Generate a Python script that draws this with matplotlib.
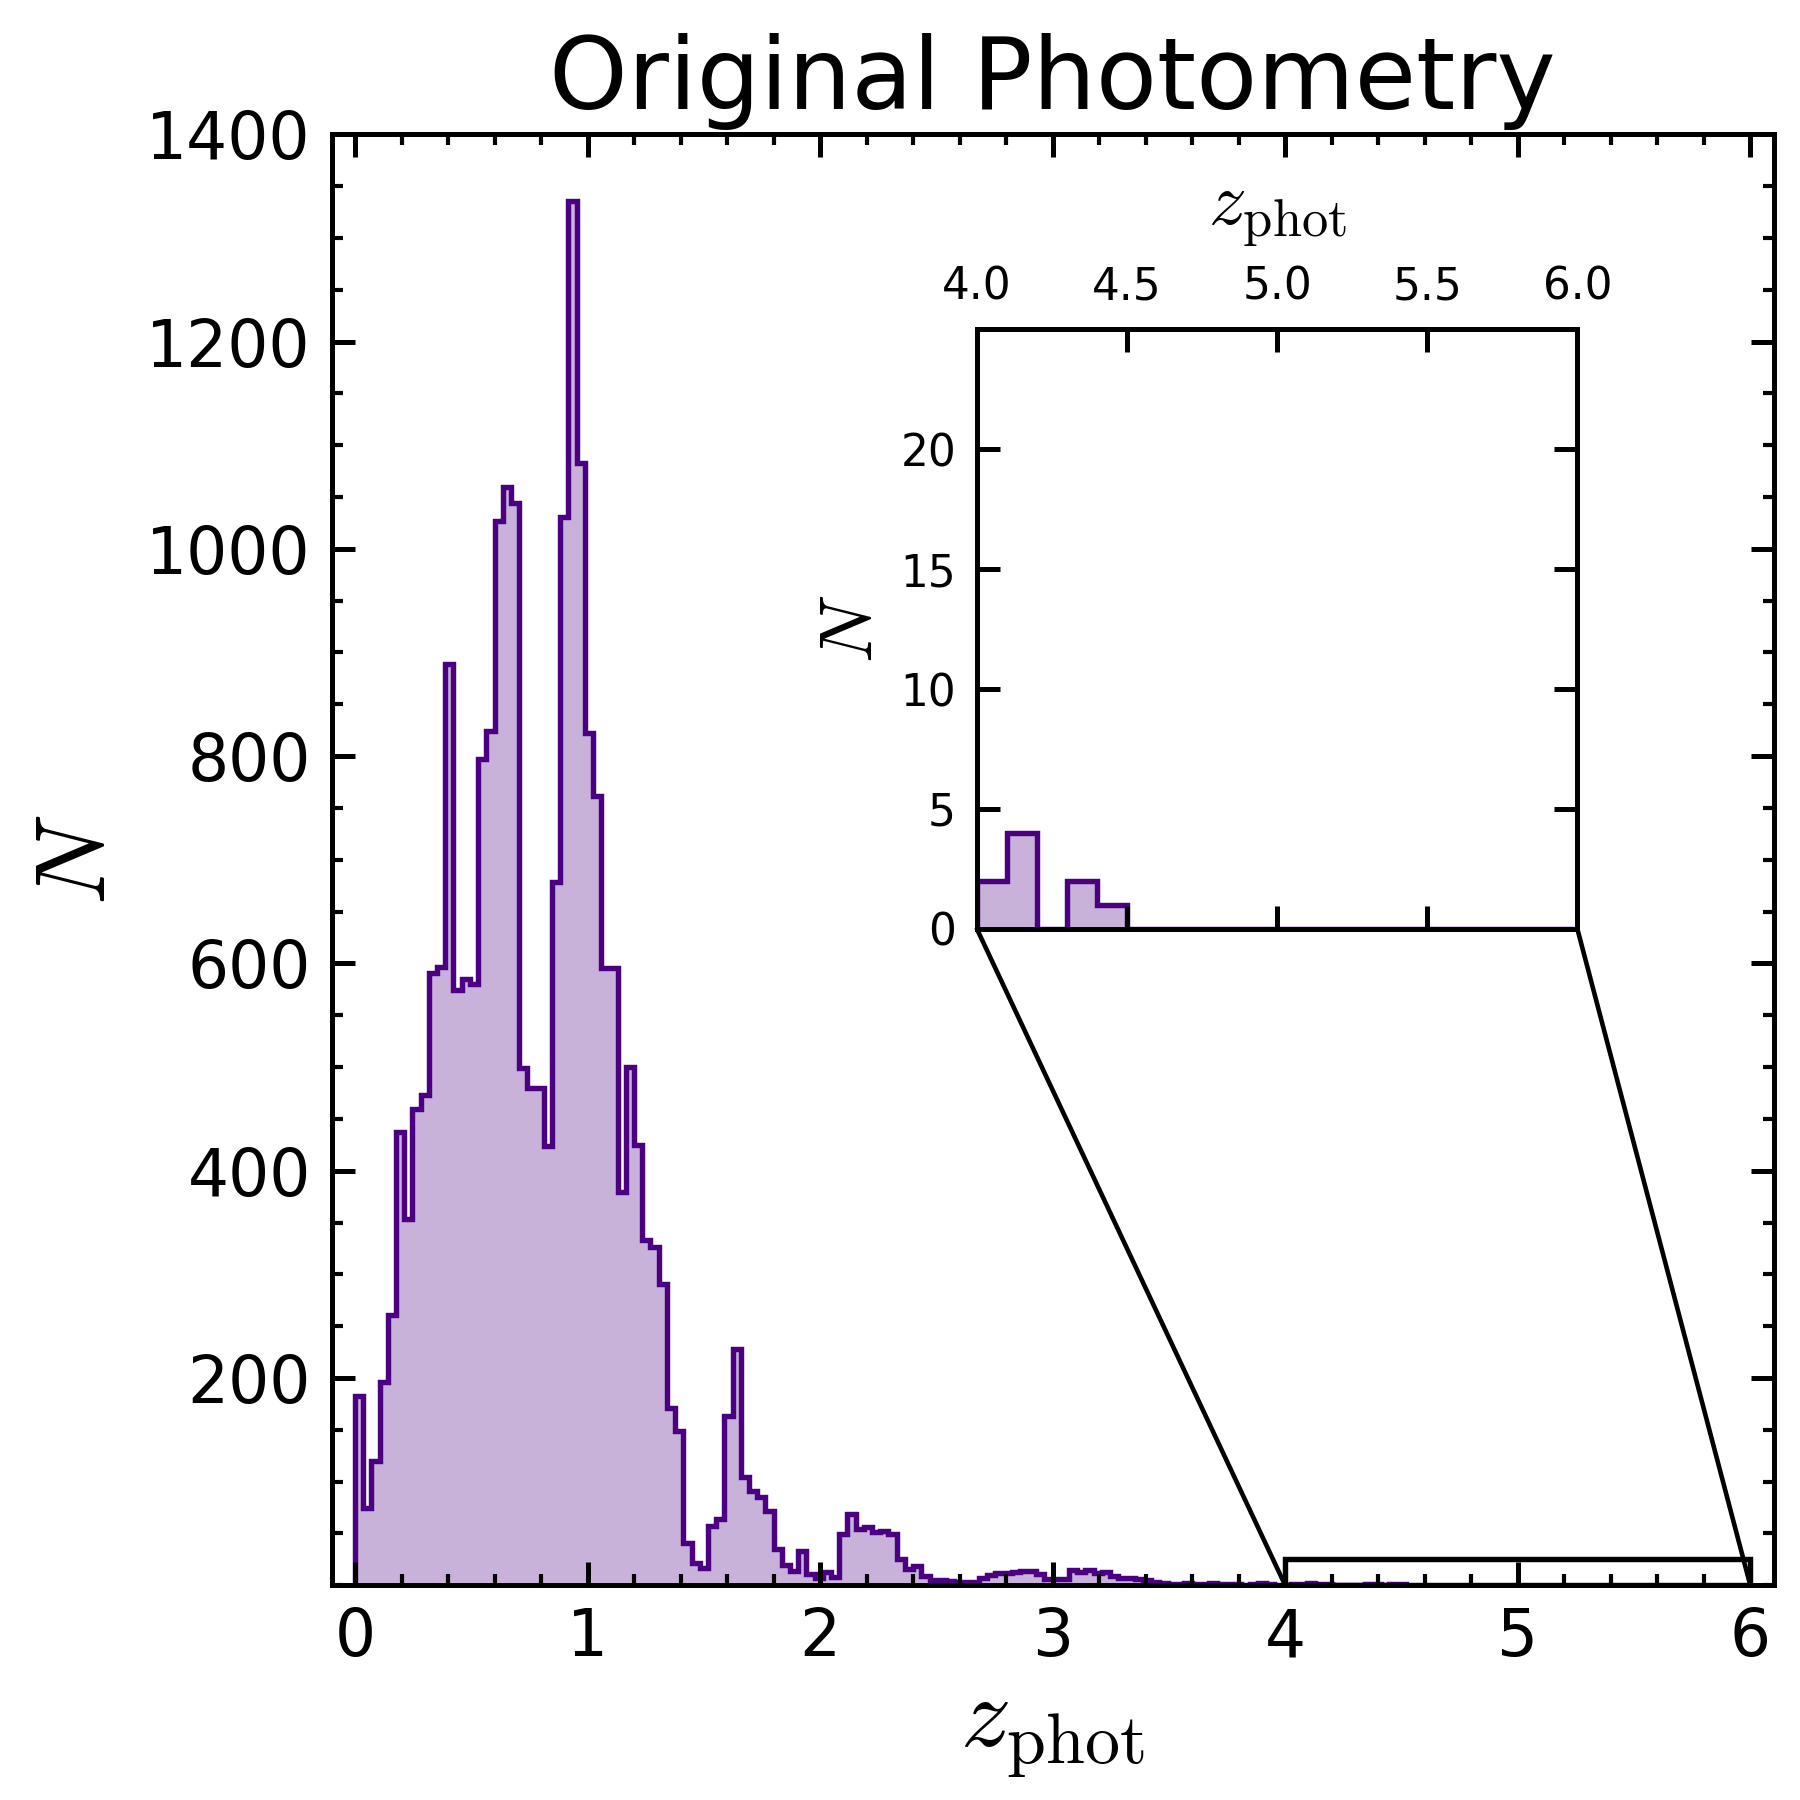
import numpy as np
import matplotlib
matplotlib.use("Agg")
import matplotlib.pyplot as plt
from matplotlib.patches import Rectangle, ConnectionPatch
from matplotlib.ticker import MultipleLocator

# Histogram of photometric redshifts (main panel), bins of width 6/170 starting at z=0
bin_lo, bin_hi, n_bins = 0.0, 6.0, 170
main_counts = [
    183, 75, 120, 196, 261, 437, 353, 460, 473, 591,
    597, 889, 574, 585, 580, 797, 824, 1027, 1060, 1044,
    499, 480, 480, 424, 679, 1031, 1336, 1083, 822, 762,
    596, 596, 379, 500, 425, 333, 326, 291, 171, 149,
    41, 21, 17, 57, 64, 163, 228, 104, 91, 85,
    72, 35, 20, 14, 33, 11, 7, 13, 8, 49,
    69, 54, 56, 51, 52, 49, 25, 16, 19, 9,
    5, 5, 4, 3, 3, 3, 7, 10, 12, 12,
    13, 14, 14, 11, 6, 6, 6, 15, 13, 15,
    12, 13, 9, 7, 7, 6, 5, 3, 2, 1,
    1, 2, 1, 1, 2, 1, 1, 1, 0, 1,
    2, 1, 0, 0, 1, 1, 2, 1, 1, 0,
    0, 0, 0, 1, 1, 0, 1, 1,
]

# Inset: high-z tail, bins of 0.1 from 4.0
inset_lo, inset_hi, inset_bins = 4.0, 6.0, 20
inset_counts = [2, 4, 0, 2, 1, 0, 0, 0, 0, 0,
                0, 0, 0, 0, 0, 0, 0, 0, 0, 0]

x_ticks = [0, 1, 2, 3, 4, 5, 6]
y_ticks = [200, 400, 600, 800, 1000, 1200, 1400]
inset_xticks = [4.0, 4.5, 5.0, 5.5, 6.0]
inset_yticks = [0, 5, 10, 15, 20]

edge_color = "#4B0082"

plt.rcParams["mathtext.fontset"] = "cm"
plt.rcParams["font.family"] = "DejaVu Sans"
plt.rcParams["axes.linewidth"] = 1.2

fig = plt.figure(figsize=(6, 6), dpi=300)
ax = fig.add_axes([0.1843, 0.1193, 0.801, 0.8061])

edges = np.linspace(bin_lo, bin_hi, n_bins + 1)[:len(main_counts) + 1]
ax.stairs(main_counts, edges, fill=True, color=edge_color, alpha=0.3, lw=0)
ax.stairs(main_counts, edges, color=edge_color, lw=1.3)

ax.set_xlim(-0.1, 6.1)
ax.set_ylim(0, 1400)
ax.set_xticks(x_ticks)
ax.set_yticks(y_ticks)
ax.xaxis.set_minor_locator(MultipleLocator(0.2))
ax.yaxis.set_minor_locator(MultipleLocator(50))
ax.tick_params(which="both", direction="in", top=True, right=True)
ax.tick_params(which="major", length=5.5, width=1.2, labelsize=15.5, pad=5)
ax.tick_params(which="minor", length=2.7, width=1.0)
ax.set_xlabel(r"$z_{\mathrm{phot}}$", fontsize=24, labelpad=3)
ax.set_ylabel(r"$N$", fontsize=24, labelpad=5)
ax.set_title("Original Photometry", fontsize=24, pad=6)

# inset axes
axins = fig.add_axes([0.5427, 0.484, 0.3336, 0.333])
in_edges = np.linspace(inset_lo, inset_hi, inset_bins + 1)
axins.stairs(inset_counts, in_edges, fill=True, color=edge_color, alpha=0.3, lw=0)
axins.stairs(inset_counts, in_edges, color=edge_color, lw=1.3)
axins.set_xlim(4.0, 6.0)
axins.set_ylim(0, 25)
axins.set_xticks(inset_xticks)
axins.set_yticks(inset_yticks)
axins.tick_params(direction="in", top=True, bottom=True, left=True, right=True,
                  labeltop=True, labelbottom=False, length=5.5, width=1.2,
                  labelsize=10.5, pad=5)
axins.xaxis.set_label_position("top")
axins.set_xlabel(r"$z_{\mathrm{phot}}$", fontsize=18, labelpad=10)
axins.set_ylabel(r"$N$", fontsize=18, labelpad=3)

# zoom box and connector lines
ax.add_patch(Rectangle((4.0, 0), 2.0, 25, fill=False, ec="k", lw=1.3, zorder=5))
for xc, xi in [(4.0, 0.0), (6.0, 1.0)]:
    con = ConnectionPatch(xyA=(xi, 0), coordsA=axins.transAxes,
                          xyB=(xc, 0), coordsB=ax.transData,
                          color="k", lw=1.1)
    fig.add_artist(con)

fig.savefig("out.png", dpi=300)
